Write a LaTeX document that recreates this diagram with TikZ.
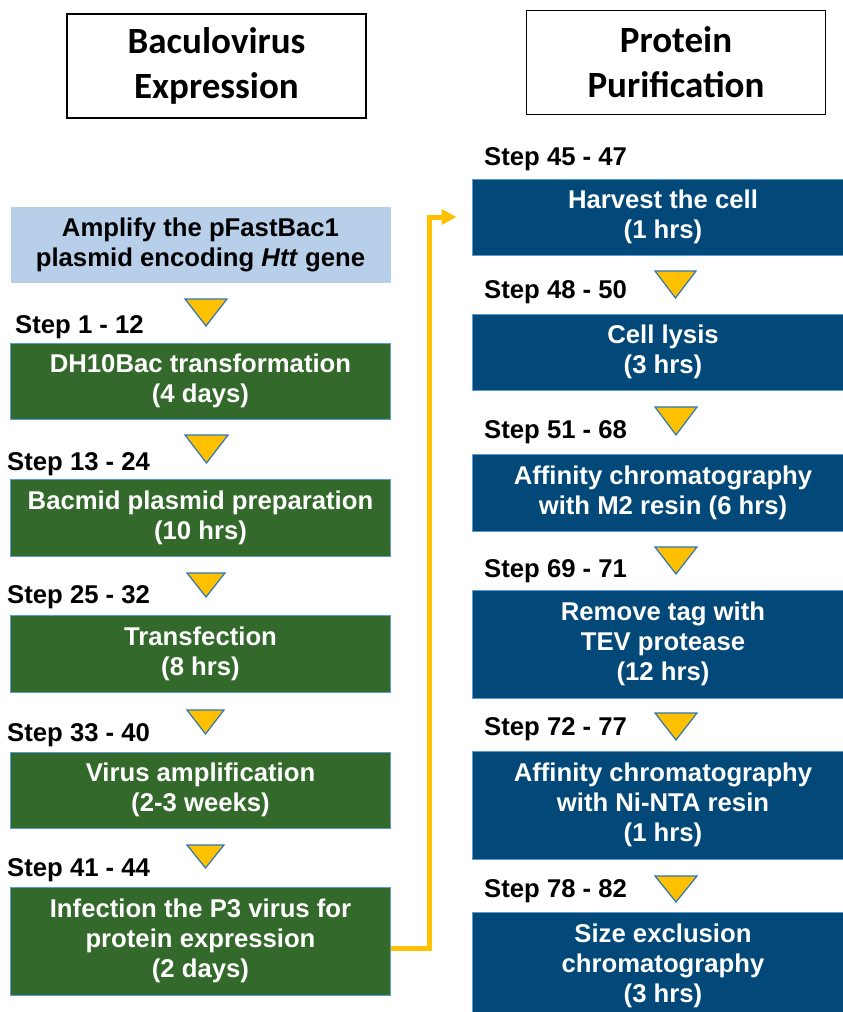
\documentclass[tikz,border=0pt]{standalone}
\usepackage{fontspec}
\setmainfont{Liberation Sans}
\newfontfamily\titlefam{Carlito}
\usetikzlibrary{arrows.meta}
\definecolor{boxgreen}{RGB}{51,105,42}
\definecolor{boxblue}{RGB}{2,72,120}
\definecolor{lightblue}{RGB}{184,207,234}
\definecolor{edgeblue}{RGB}{91,155,213}
\definecolor{flowyellow}{RGB}{255,192,0}
\definecolor{triblue}{RGB}{46,117,182}
\newcommand\boxfont{\fontsize{25.7}{30}\selectfont\bfseries}
\newcommand\headfont{\fontsize{37}{45}\selectfont\titlefam\bfseries}
\begin{document}
\begin{tikzpicture}
      [
      x=1pt, y=-1pt,
      heading/.style={draw=black,line width=1.5pt,rectangle,inner sep=0pt,minimum width=299pt,minimum height=104pt,align=center,font=\headfont},
      lightbox/.style={fill=lightblue,rectangle,inner sep=0pt,minimum width=380pt,minimum height=76pt,align=center,font=\boxfont},
      greenbox/.style={fill=boxgreen,draw=edgeblue,line width=1pt,rectangle,inner sep=0pt,minimum width=380pt,text=white,align=center,font=\boxfont},
      bluebox/.style={fill=boxblue,draw=edgeblue,line width=1pt,rectangle,inner sep=0pt,minimum width=382pt,text=white,align=center,font=\boxfont},
      steplabel/.style={anchor=base west,inner sep=0pt,font=\boxfont},
      marker/.style={fill=flowyellow,draw=triblue,line width=1.2pt,line join=miter},
      flow/.style={draw=flowyellow,line width=5pt,-{Triangle[length=15pt,width=15pt]}}
      ]
      \useasboundingbox (0,0) rectangle (843,1012);
      \clip (0,0) rectangle (843,1012);

      \node (t1) at (216.5,66) [heading] {Baculovirus\\Expression};
      \node (t2) at (676,62.5) [heading] {Protein\\Purification};

      \node (l0) at (200.5,245) [lightbox] {Amplify the pFastBac1\\plasmid encoding \textit{Htt} gene};
      \node (l1) at (200.5,381) [greenbox,minimum height=76pt] {DH10Bac transformation\\(4 days)};
      \node (l2) at (200.5,517.5) [greenbox,minimum height=77pt] {Bacmid plasmid preparation\\(10 hrs)};
      \node (l3) at (200.5,653.5) [greenbox,minimum height=77pt] {Transfection\\(8 hrs)};
      \node (l4) at (200.5,790) [greenbox,minimum height=76pt] {Virus amplification\\(2-3 weeks)};
      \node (l5) at (200.5,941) [greenbox,minimum height=108pt] {Infection the P3 virus for\\protein expression\\(2 days)};

      \node (s1) at (15,333) [steplabel] {Step 1 - 12};
      \node (s2) at (7,470) [steplabel] {Step 13 - 24};
      \node (s3) at (7,603) [steplabel] {Step 25 - 32};
      \node (s4) at (7,741) [steplabel] {Step 33 - 40};
      \node (s5) at (7,876) [steplabel] {Step 41 - 44};

      \node (r1) at (663,217) [bluebox,minimum height=76pt] {Harvest the cell\\(1 hrs)};
      \node (r2) at (663,352) [bluebox,minimum height=76pt] {Cell lysis\\(3 hrs)};
      \node (r3) at (663,492.5) [bluebox,minimum height=77pt] {Affinity chromatography\\with M2 resin (6 hrs)};
      \node (r4) at (663,644) [bluebox,minimum height=108pt] {Remove tag with\\TEV protease\\(12 hrs)};
      \node (r5) at (663,805) [bluebox,minimum height=108pt] {Affinity chromatography\\with Ni-NTA resin\\(1 hrs)};
      \node (r6) at (663,966) [bluebox,minimum height=108pt] {Size exclusion\\chromatography\\(3 hrs)};

      \node (s6) at (484,165) [steplabel] {Step 45 - 47};
      \node (s7) at (484,298) [steplabel] {Step 48 - 50};
      \node (s8) at (484,438) [steplabel] {Step 51 - 68};
      \node (s9) at (484,577) [steplabel] {Step 69 - 71};
      \node (s10) at (484,735) [steplabel] {Step 72 - 77};
      \node (s11) at (484,897) [steplabel] {Step 78 - 82};

      % down markers between the steps
      \foreach \x/\y/\w/\h in {185/299/42/27, 185/435/43/28, 187/573/38/24, 187/710/37/24, 187/845/37/23,
                               655/271/41/27, 655/407/42/28, 655/547/42/27, 655/713/42/27, 655/876/42/26}
        \filldraw [marker] (\x,\y) -- ++(\w,0) -- ++(-\w/2,\h) -- cycle;

      \draw [flow] ([yshift=-7.5pt]l5.east) -- ++(38.5,0) |- ([xshift=-15pt]r1.west);
    \end{tikzpicture}
\end{document}
